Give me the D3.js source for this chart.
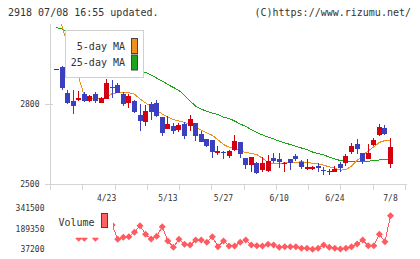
<!DOCTYPE html>
<html><head><meta charset="utf-8">
<script src="https://cdn.jsdelivr.net/npm/d3@7"></script>
<style>body{margin:0;background:#fff}svg{display:block}text{font-family:"DejaVu Sans Mono",monospace;fill:#333}</style>
</head><body>
<svg id="c" width="420" height="259"></svg>
<script>
const dates = ["4/10","4/11","4/12","4/15","4/16","4/17","4/18","4/19","4/22","4/23","4/24","4/25","4/26","4/30","5/1","5/2","5/7","5/8","5/9","5/10","5/13","5/14","5/15","5/16","5/17","5/20","5/21","5/22","5/23","5/24","5/27","5/28","5/29","5/30","5/31","6/3","6/4","6/5","6/6","6/7","6/10","6/11","6/12","6/13","6/14","6/17","6/18","6/19","6/20","6/21","6/24","6/25","6/26","6/27","6/28","7/1","7/2","7/3","7/4","7/5","7/8"];
const open  = [2930,2940,2842,2811,2815,2837,2812,2837,2805,2820,2865,2871,2836,2805,2811,2759,2734,2800,2805,2751,2706,2717,2702,2725,2719,2727,2687,2667,2665,2616,2621,2606,2627,2656,2596,2571,2578,2552,2549,2596,2592,2574,2592,2605,2584,2556,2556,2569,2552,2545,2546,2574,2580,2621,2650,2617,2592,2646,2684,2711,2575];
const high  = [2932,2944,2852,2852,2849,2846,2834,2846,2827,2894,2890,2878,2846,2836,2815,2800,2796,2809,2815,2751,2755,2727,2730,2734,2759,2729,2699,2669,2665,2642,2624,2627,2684,2657,2596,2601,2581,2602,2609,2615,2615,2581,2594,2612,2590,2594,2567,2577,2565,2555,2567,2581,2611,2652,2669,2617,2650,2674,2725,2721,2671];
const low   = [2928,2852,2800,2763,2811,2809,2809,2805,2803,2819,2821,2840,2794,2786,2768,2700,2718,2740,2752,2680,2706,2687,2694,2669,2700,2661,2656,2639,2599,2609,2592,2599,2624,2596,2556,2546,2537,2546,2544,2578,2559,2546,2552,2586,2556,2552,2552,2546,2534,2534,2544,2546,2567,2611,2611,2575,2592,2644,2680,2684,2561];
const close = [2930,2859,2803,2794,2824,2812,2831,2812,2824,2878,2859,2842,2799,2830,2771,2737,2774,2771,2755,2692,2725,2700,2721,2681,2744,2681,2659,2642,2621,2624,2617,2624,2661,2612,2571,2600,2540,2580,2586,2586,2581,2580,2580,2594,2565,2565,2565,2561,2550,2547,2555,2561,2605,2644,2631,2586,2617,2665,2715,2687,2640];
const ma5   = [3130,3092,3021,2957,2899,2830,2821,2821,2821,2824,2839,2842,2842,2842,2837,2819,2804,2791,2777,2762,2751,2742,2736,2731,2724,2714,2702,2692,2682,2666,2648,2638,2632,2625,2618,2615,2610,2596,2582,2576,2578,2579,2580,2581,2584,2581,2578,2575,2571,2564,2559,2552,2554,2567,2588,2607,2624,2639,2656,2663,2664];
const ma25  = [3087,3081,3072,3061,3049,3038,3027,3016,3004,2993,2982,2971,2959,2948,2937,2927,2918,2909,2897,2886,2873,2862,2851,2832,2811,2792,2781,2772,2766,2761,2751,2746,2736,2725,2716,2704,2693,2684,2676,2669,2661,2654,2648,2641,2635,2629,2620,2614,2609,2601,2594,2588,2586,2586,2586,2586,2586,2587,2590,2592,2593];
const volume = [180000,341500,236000,168000,119000,119000,160000,120000,171000,196000,217000,111400,126300,130700,163400,212400,148500,113600,133700,205000,98800,52000,111400,74300,69100,106200,106200,89100,130700,56500,98800,61700,61700,89100,106200,69100,63900,61700,74300,69100,52000,56500,56500,56500,44600,44600,37200,44600,69100,52000,44600,39400,44600,56500,76500,106200,63900,63900,148500,93600,286600];
const dateTicks = ["4/23","5/13","5/27","6/10","6/24","7/8"];
const priceTicks = [2500, 2800];
const volumeTicks = [37200, 189350, 341500];

const svg = d3.select("#c");
const x = d3.scalePoint().domain(dates).range([56.5, 390.5]);
const y = d3.scaleLinear().domain([2500, 3100]).range([184, 24]);
const yv = d3.scaleLinear().domain([37200, 341500]).range([249.3, 208.3]);
const grid = d3.scaleLinear().domain([0, 11]).range([50, 405]);
const axisColor = "#d4d4d4";
const up = "#d40010", down = "#3b40bf";

// title
svg.append("text").attr("x", 8).attr("y", 16).attr("font-size", 10).text("2918 07/08 16:55 updated.");
svg.append("text").attr("x", 411).attr("y", 16).attr("font-size", 10).attr("text-anchor", "end").text("(C)https://www.rizumu.net/");

// axes
svg.append("line").attr("x1", 50.5).attr("x2", 50.5).attr("y1", y(3100)).attr("y2", 184).attr("stroke", axisColor);
svg.append("line").attr("x1", 45).attr("x2", 407).attr("y1", 184.5).attr("y2", 184.5).attr("stroke", axisColor);
svg.selectAll(".gt").data(d3.range(12)).join("line")
  .attr("x1", d => Math.round(grid(d)) + 0.5).attr("x2", d => Math.round(grid(d)) + 0.5)
  .attr("y1", 184).attr("y2", 190).attr("stroke", axisColor);
svg.selectAll(".pt").data(priceTicks).join("line")
  .attr("x1", 45).attr("x2", 53).attr("y1", d => Math.round(y(d)) + 0.5).attr("y2", d => Math.round(y(d)) + 0.5)
  .attr("stroke", axisColor);
svg.selectAll(".pl").data(priceTicks).join("text")
  .attr("x", 39.5).attr("y", d => y(d)).attr("dy", "0.35em").attr("text-anchor", "end")
  .attr("font-size", 8).text(d => d);
svg.selectAll(".dl").data(dateTicks).join("text")
  .attr("x", d => x(d)).attr("y", 200.5).attr("text-anchor", "middle").attr("font-size", 8).text(d => d);

// clip
svg.append("clipPath").attr("id", "plot").append("rect").attr("x", 51).attr("y", 24).attr("width", 356).attr("height", 160);

// MA lines
const idx = d3.range(dates.length);
const g = svg.append("g").attr("clip-path", "url(#plot)");
const ln = arr => d3.line().x(i => x(dates[i])).y(i => y(arr[i]))(idx);
g.append("path").attr("d", ln(ma25)).attr("fill", "none").attr("stroke", "#1aa51a").attr("stroke-width", 1).attr("shape-rendering", "crispEdges");
g.append("path").attr("d", ln(ma5)).attr("fill", "none").attr("stroke", "#f0901e").attr("stroke-width", 1).attr("shape-rendering", "crispEdges");

// candles
const cg = g.append("g").attr("shape-rendering", "crispEdges");
cg.selectAll(".wk").data(idx).join("line")
  .attr("x1", i => x(dates[i])).attr("x2", i => x(dates[i]))
  .attr("y1", i => y(high[i])).attr("y2", i => y(low[i]))
  .attr("stroke", i => close[i] >= open[i] ? up : down).attr("stroke-width", 1);
cg.selectAll(".bd").data(idx).join("rect")
  .attr("x", i => x(dates[i]) - 2.5).attr("width", 5)
  .attr("y", i => y(Math.max(open[i], close[i])))
  .attr("height", i => Math.max(1, Math.abs(y(open[i]) - y(close[i]))))
  .attr("fill", i => close[i] >= open[i] ? up : down);

// legend
svg.append("rect").attr("x", 65.5).attr("y", 30.5).attr("width", 78).attr("height", 47).attr("fill", "#fff").attr("stroke", "#d0d0d0");
const legItems = [["5-day MA", "#f0901e", 46], ["25-day MA", "#1aa51a", 62.5]];
legItems.forEach(([t, c, cy]) => {
  svg.append("text").attr("x", 125).attr("y", cy).attr("dy", "0.35em").attr("text-anchor", "end").attr("font-size", 10).text(t);
  svg.append("rect").attr("x", 131.5).attr("y", cy - 7.5).attr("width", 6).attr("height", 15).attr("fill", c).attr("stroke", "#444");
});

// volume
const vline = d3.line().x(i => x(dates[i])).y(i => yv(volume[i]));
const vc = "#ff5a5f";
svg.append("path").attr("d", vline(idx)).attr("fill", "none").attr("stroke", vc).attr("stroke-width", 1).attr("shape-rendering", "crispEdges");
svg.selectAll(".vm").data(idx).join("path")
  .attr("transform", i => `translate(${x(dates[i])},${yv(volume[i])})`)
  .attr("d", "M0,-3.5L3.5,0L0,3.5L-3.5,0Z").attr("fill", vc);
svg.append("rect").attr("x", 51).attr("y", 204).attr("width", 62).attr("height", 33.7).attr("fill", "#fff");
svg.append("text").attr("x", 94.5).attr("y", 222.3).attr("dy", "0.35em").attr("text-anchor", "end").attr("font-size", 10).text("Volume");
svg.append("rect").attr("x", 101.5).attr("y", 213.5).attr("width", 6).attr("height", 14).attr("fill", "#ff6060").attr("stroke", "#444");
svg.selectAll(".vl").data(volumeTicks).join("text")
  .attr("x", 44.5).attr("y", d => yv(d)).attr("dy", "0.35em").attr("text-anchor", "end").attr("font-size", 8).text(d => d);
</script>
</body></html>
